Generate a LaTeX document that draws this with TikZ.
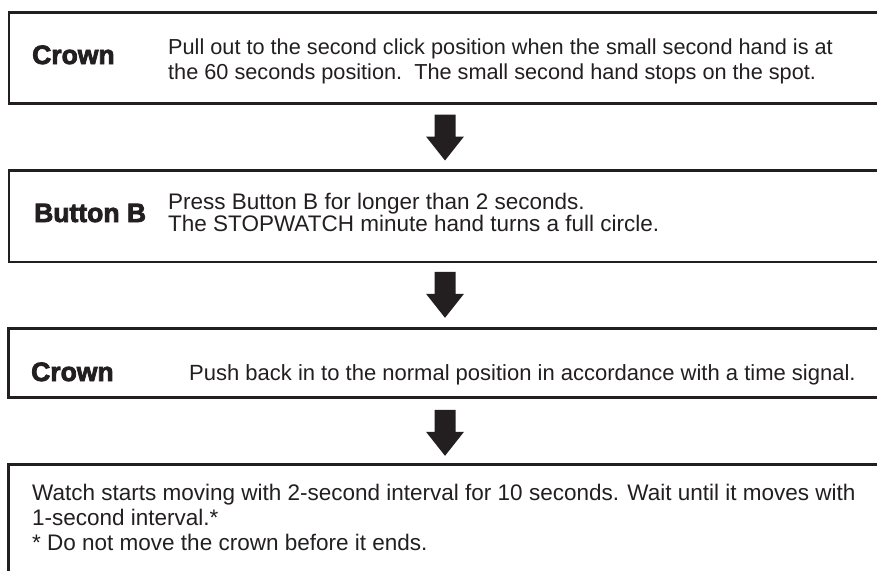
\documentclass[tikz,border=0pt]{standalone}
\usepackage{fontspec}
\setmainfont{Liberation Sans}
\newfontfamily\heavyfont[FakeBold=3]{Liberation Sans Bold}
\definecolor{ink}{HTML}{231F20}
\begin{document}
\begin{tikzpicture}[x=1pt,y=-1pt,
  box/.style={draw=ink, line width=2.8pt, rectangle, anchor=north west, inner sep=0pt, minimum width=900pt},
  lbl/.style={anchor=base west, inner sep=0pt, text=ink, font=\heavyfont\fontsize{26.5}{30}\selectfont},
  txt/.style={anchor=base west, inner sep=0pt, text=ink, font=\fontsize{22}{25}\selectfont},
  txtA/.style={txt, font=\fontsize{21.7}{25}\selectfont},
  txtB/.style={txt, font=\fontsize{22.5}{25}\selectfont},
  pics/blockarrow/.style={code={
    \fill[ink] (-10.5,0) -- (10.5,0) -- (10.5,22) -- (19,22) -- (0,46) -- (-19,22) -- (-10.5,22) -- cycle;}}]
\useasboundingbox (0,0) rectangle (877,570);
\clip (0,0) rectangle (877,570);
\fill[white] (0,0) rectangle (877,570);

% boxes
\node[box, minimum height=90.4pt] (b1) at (7.5,11.3) {};
\node[box, minimum height=91.5pt] (b2) at (7.5,169) {};
\node[box, minimum height=69pt] (b3) at (7,327) {};
\node[box, minimum height=150pt] (b4) at (7,463) {};

% labels
\node[lbl] (l1) at (32,64) {Crown};
\node[lbl] (l2) at (34,222) {Button B};
\node[lbl] (l3) at (31,381) {Crown};

% texts
\node[txtA] (t1a) at (168,54) {Pull out to the second click position when the small second hand is at};
\node[txtA] (t1b) at (168,79) {the 60 seconds position.\ \ The small second hand stops on the spot.};
\node[txtB] (t2a) at (168,209) {Press Button B for longer than 2 seconds.};
\node[txtB] (t2b) at (168,231) {The STOPWATCH minute hand turns a full circle.};
\node[txt] (t3) at (189,380) {Push back in to the normal position in accordance with a time signal.};
\node[txtB] (t4a) at (32,500) {Watch starts moving with 2-second interval for 10 seconds. Wait until it moves with};
\node[txtB] (t4b) at (32,525) {1-second interval.*};
\node[txtB] (t4c) at (32,550) {* Do not move the crown before it ends.};

% arrows between boxes
\path (b1.south west) ++(437.5,10) coordinate (a1);
\path (b2.south west) ++(437.5,8.5) coordinate (a2);
\path (b3.south west) ++(438,11) coordinate (a3);
\pic at (a1) {blockarrow};
\pic at (a2) {blockarrow};
\pic at (a3) {blockarrow};
\end{tikzpicture}
\end{document}
